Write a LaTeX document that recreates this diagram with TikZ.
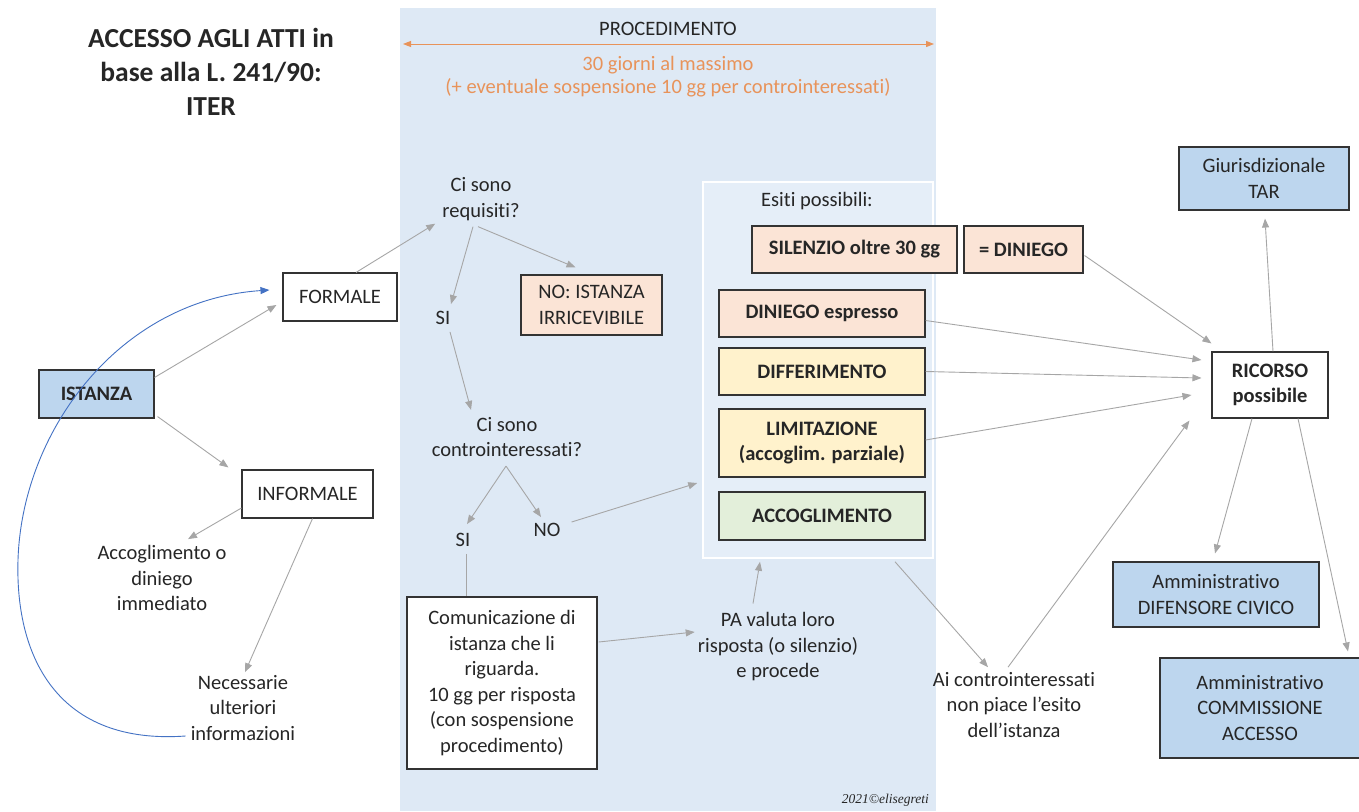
\documentclass[tikz,border=0pt]{standalone}
\usepackage{fontspec}
\setmainfont{Carlito}[RawFeature=-liga]
\newfontfamily\sigfont{Liberation Serif}
\usetikzlibrary{arrows.meta,calc}
\newcommand\basefs{\fontsize{20.5}{25.5}\selectfont}
\definecolor{band}{HTML}{DEE9F5}
\definecolor{inner}{HTML}{E5EEF8}
\definecolor{peach}{HTML}{FBE4D6}
\definecolor{pyellow}{HTML}{FFF2CC}
\definecolor{pgreen}{HTML}{E3EFDA}
\definecolor{pblue}{HTML}{BDD6EE}
\definecolor{orng}{HTML}{E8935A}
\definecolor{arrgray}{HTML}{A6A6A6}
\definecolor{txt}{HTML}{262626}
\definecolor{curveblue}{HTML}{4472C4}
\tikzset{
  box/.style={draw=black!80, line width=1.1pt, align=center, inner sep=2pt, text=txt},
  bbox/.style={box, font=\basefs\bfseries},
  lbl/.style={align=center, inner sep=1pt, text=txt},
  arr/.style={draw=arrgray, line width=0.9pt, -{Triangle[length=9pt,width=7pt]}},
  plain/.style={draw=arrgray, line width=0.9pt},
}
\begin{document}
\begin{tikzpicture}[x=1pt,y=-1pt,font=\basefs]
\useasboundingbox (0,0) rectangle (1359,811);
\fill[white] (0,0) rectangle (1359,811);
\fill[band] (400,8) rectangle (936,811);

% header
\node[lbl, font=\bfseries\fontsize{27.5}{34}\selectfont] (title) at (211,72) {ACCESSO AGLI ATTI in\\base alla L. 241/90:\\ITER};
\node[lbl] (proc) at (668,29) {PROCEDIMENTO};
\coordinate (pl) at (403,44);
\coordinate (pr) at (934,44);
\draw[orng, line width=1pt, {Triangle[length=8pt,width=6pt]}-{Triangle[length=8pt,width=6pt]}] (pl) -- (pr);
\node[lbl, text=orng] (ora1) at (668,65) {30 giorni al massimo};
\node[lbl, text=orng] (ora2) at (668,88) {(+ eventuale sospensione 10 gg per controinteressati)};

% left part
\node[bbox, fill=pblue, minimum width=115pt, minimum height=48pt] (istanza) at (96.5,394) {ISTANZA};
\node[box, fill=white, minimum width=114pt, minimum height=48pt] (formale) at (340,297) {FORMALE};
\node[box, fill=white, minimum width=131pt, minimum height=48pt] (informale) at (307.5,494) {INFORMALE};
\node[lbl] (accog) at (162,578) {Accoglimento o\\diniego\\immediato};
\node[lbl] (necess) at (243,708) {Necessarie\\ulteriori\\informazioni};

% procedure
\node[lbl] (req) at (481,199) {Ci sono\\requisiti?};
\node[lbl] (si1) at (443,318) {SI};
\node[box, fill=peach, minimum width=141pt, minimum height=60pt] (nobox) at (591.5,305) {NO: ISTANZA\\IRRICEVIBILE};
\node[lbl] (ctrl) at (507,437) {Ci sono\\controinteressati?};
\node[lbl] (si2) at (463,540) {SI};
\node[lbl] (no2) at (547,530) {NO};
\node[box, fill=white, minimum width=190pt, minimum height=172pt] (comunic) at (502,683) {Comunicazione di\\istanza che li\\riguarda.\\10 gg per risposta\\(con sospensione\\procedimento)};
\node[lbl] (pa) at (778,647) {PA valuta loro\\risposta (o silenzio)\\e procede};
\node[lbl] (ai) at (1014,705) {Ai controinteressati\\non piace l’esito\\dell’istanza};

% esiti
\node[draw=white, line width=1.5pt, fill=inner, minimum width=230pt, minimum height=376pt, inner sep=0pt] (esiti) at (818,370) {};
\node[lbl] (esitilbl) at (817,201) {Esiti possibili:};
\node[bbox, fill=peach, minimum width=205pt, minimum height=47pt] (silenzio) at (854.5,249.5) {SILENZIO oltre 30 gg};
\node[bbox, fill=peach, minimum width=119pt, minimum height=47pt] (ugdin) at (1023.5,249.5) {= DINIEGO};
\node[bbox, fill=peach, minimum width=206pt, minimum height=47pt] (dinesp) at (822,313.5) {DINIEGO espresso};
\node[bbox, fill=pyellow, minimum width=206pt, minimum height=47pt] (diff) at (822,371.5) {DIFFERIMENTO};
\node[bbox, fill=pyellow, minimum width=206pt, minimum height=68pt] (limit) at (822,443) {LIMITAZIONE\\(accoglim. parziale)};
\node[bbox, fill=pgreen, minimum width=206pt, minimum height=48pt] (accogl) at (822,516) {ACCOGLIMENTO};

% right part
\node[box, fill=pblue, minimum width=170pt, minimum height=63pt] (tar) at (1264,178.5) {Giurisdizionale\\TAR};
\node[bbox, fill=white, minimum width=116pt, minimum height=66pt] (ricorso) at (1270,385) {RICORSO\\possibile};
\node[box, fill=pblue, minimum width=206pt, minimum height=65pt] (difens) at (1216,594.5) {Amministrativo\\DIFENSORE CIVICO};
\node[box, fill=pblue, minimum width=200pt, minimum height=100pt] (commiss) at (1260,708) {Amministrativo\\COMMISSIONE\\ACCESSO};

\node[lbl, font=\sigfont\itshape\fontsize{13.5}{15}\selectfont, anchor=east] (sig) at (930,800) {2021©elisegreti};

% connectors
\draw[arr] ($(istanza.north east)+(0,8)$) -- ($(formale.west)+(-6,8)$);
\draw[arr] ($(istanza.south east)+(3,-2)$) -- ($(informale.north west)+(-13,-2)$);
\draw[arr] ($(informale.west)+(0,14)$) -- ($(accog.north)+(26,-5)$);
\draw[arr] ($(informale.south)+(5,0)$) -- ($(necess.north)+(2,-2)$);
\draw[arr] ($(formale.north)+(16,0)$) -- ($(req.south west)+(-6,2)$);
\draw[arr] ($(req.south)+(-8,5)$) -- ($(si1.north)+(8,-6)$);
\draw[arr] ($(req.south)+(-3,5)$) -- ($(nobox.north)+(-16,-7)$);
\draw[arr] ($(si1.south)+(7,6)$) -- ($(ctrl.north)+(-36,-6)$);
\draw[arr] ($(ctrl.south)+(-1,8)$) -- ($(si2.north)+(4,-8)$);
\draw[arr] ($(ctrl.south)+(-1,8)$) -- ($(no2.north)+(-6,-5)$);
\draw[arr] ($(no2.east)+(10,-8)$) -- ($(esiti.west)+(-5,113)$);
\draw[plain] ($(si2.south)+(3,6)$) -- (comunic.north -| {$(si2.south)+(3,6)$});
\draw[arr] ($(comunic.east)+(1,-41)$) -- ($(pa.west)+(-2,-15)$);
\draw[arr] ($(pa.north)+(-25,-8)$) -- ($(esiti.south)+(-58,3)$);
\draw[arr] ($(esiti.south)+(77,3)$) -- ($(ai.north)+(-26,-4)$);
\draw[arr] ($(ai.north)+(-6,-4)$) -- ($(ricorso.south west)+(-22,2)$);
\draw[arr] ($(ugdin.east)+(1,6)$) -- ($(ricorso.north west)+(0,-8)$);
\draw[arr] ($(dinesp.east)+(0,7)$) -- ($(ricorso.west)+(-10,-25)$);
\draw[arr] ($(diff.east)+(0,0)$) -- ($(ricorso.west)+(-10,-7)$);
\draw[arr] ($(limit.east)+(0,-3)$) -- ($(ricorso.west)+(-20,10)$);
\draw[arr] ($(ricorso.north)+(3,0)$) -- ($(tar.south)+(1,8)$);
\draw[arr] ($(ricorso.south)+(-18,0)$) -- ($(difens.north)+(-1,-8)$);
\draw[arr] ($(ricorso.south)+(28,0)$) -- ($(commiss.north)+(88,-6)$);

% blue curve
\draw[curveblue, line width=0.9pt, -{Triangle[length=9pt,width=7pt]}] ($(necess.west)+(-4,28)$) .. controls (60,745) and (15,660) .. (18,560) .. controls (22,430) and (120,300) .. ($(formale.west)+(-13,-7)$);
\end{tikzpicture}
\end{document}
